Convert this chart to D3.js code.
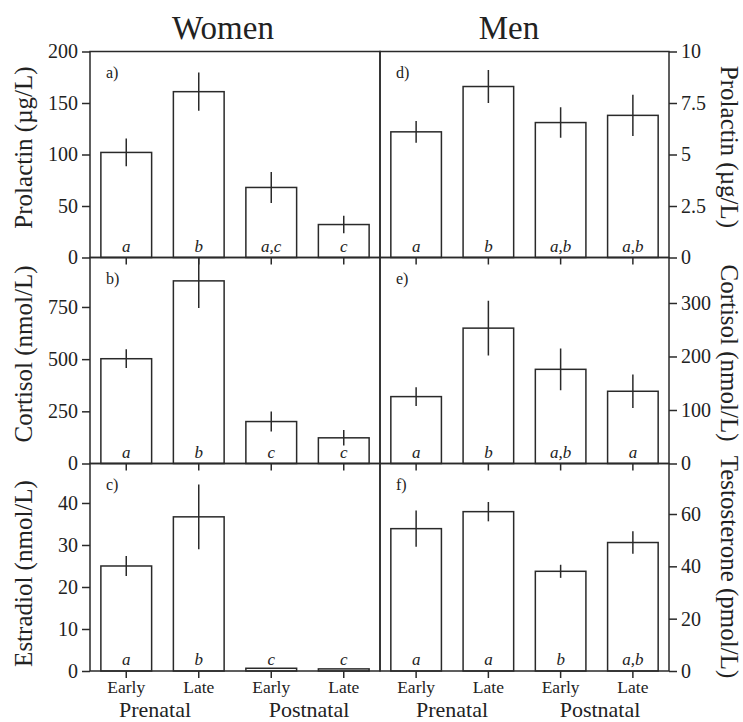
<!DOCTYPE html>
<html><head><meta charset="utf-8">
<script src="https://cdn.jsdelivr.net/npm/d3@7"></script>
<style>
body{margin:0;background:#fff;}
svg text{font-family:"Liberation Serif","Times New Roman",serif;fill:#222;}
</style></head>
<body><svg id="c" width="743" height="722"></svg>
<script>
// ---- data ----
const stages = ["Early", "Late", "Early", "Late"];
const phases = ["Prenatal", "Postnatal"];
const womenProlactin = [102, 161, 68, 32];
const womenProlactinErr = [13.5, 18.5, 15, 8.5];
const womenProlactinLetters = ["a", "b", "a,c", "c"];
const womenCortisol = [502, 875, 201, 123];
const womenCortisolErr = [45, 130, 48, 37];
const womenCortisolLetters = ["a", "b", "c", "c"];
const womenEstradiol = [25, 36.7, 0.65, 0.5];
const womenEstradiolErr = [2.4, 7.7, 0, 0];
const womenEstradiolLetters = ["a", "b", "c", "c"];
const menProlactin = [6.1, 8.3, 6.55, 6.9];
const menProlactinErr = [0.53, 0.8, 0.74, 1.0];
const menProlactinLetters = ["a", "b", "a,b", "a,b"];
const menCortisol = [125, 253, 176, 135];
const menCortisolErr = [17.5, 51, 39, 31.5];
const menCortisolLetters = ["a", "b", "a,b", "a"];
const menTestosterone = [54.4, 60.9, 38.1, 49.1];
const menTestosteroneErr = [6.9, 3.7, 2.5, 4.3];
const menTestosteroneLetters = ["a", "a", "b", "a,b"];
const ticksA = [0, 50, 100, 150, 200];
const ticksB = [0, 250, 500, 750];
const ticksC = [0, 10, 20, 30, 40];
const ticksD = [0, 2.5, 5, 7.5, 10];
const ticksE = [0, 100, 200, 300];
const ticksF = [0, 20, 40, 60];

const svg = d3.select("#c");
const ink = "#2a2a2a";
const rows = [51.5, 257.5, 463.5, 671];
const cols = [[90, 380], [380, 669]];

const panels = [
  {id:"a", col:0, row:0, vals:womenProlactin, err:womenProlactinErr, let:womenProlactinLetters, max:200, ticks:ticksA, label:"Prolactin (µg/L)", lab:[23,147.5]},
  {id:"b", col:0, row:1, vals:womenCortisol, err:womenCortisolErr, let:womenCortisolLetters, max:987, ticks:ticksB, label:"Cortisol (nmol/L)", lab:[23,354]},
  {id:"c", col:0, row:2, vals:womenEstradiol, err:womenEstradiolErr, let:womenEstradiolLetters, max:49.4, ticks:ticksC, label:"Estradiol (nmol/L)", lab:[23,573.5]},
  {id:"d", col:1, row:0, vals:menProlactin, err:menProlactinErr, let:menProlactinLetters, max:10, ticks:ticksD, label:"Prolactin (µg/L)", lab:[730,147]},
  {id:"e", col:1, row:1, vals:menCortisol, err:menCortisolErr, let:menCortisolLetters, max:385, ticks:ticksE, label:"Cortisol (nmol/L)", lab:[730,353]},
  {id:"f", col:1, row:2, vals:menTestosterone, err:menTestosteroneErr, let:menTestosteroneLetters, max:79.3, ticks:ticksF, label:"Testosterone (pmol/L)", lab:[730,567]}
];

panels.forEach(p => {
  const [x0, x1] = cols[p.col];
  const y0 = rows[p.row], y1 = rows[p.row + 1];
  const x = d3.scaleBand().domain(d3.range(4)).range([x0, x1]).paddingInner(0.3).paddingOuter(0.15);
  const y = d3.scaleLinear().domain([0, p.max]).range([y1, y0]);
  const g = svg.append("g");
  const clipId = "clip" + p.id;
  svg.append("clipPath").attr("id", clipId).append("rect")
    .attr("x", x0).attr("y", y0).attr("width", x1 - x0).attr("height", y1 - y0);

  // bars
  g.selectAll("rect.bar").data(p.vals).join("rect")
    .attr("x", (d, i) => x(i)).attr("width", x.bandwidth())
    .attr("y", d => y(d)).attr("height", d => y(0) - y(d))
    .attr("fill", "#fff").attr("stroke", ink).attr("stroke-width", 1.5);
  // error bars
  g.append("g").attr("clip-path", `url(#${clipId})`).selectAll("line").data(p.vals).join("line")
    .attr("x1", (d, i) => x(i) + x.bandwidth() / 2).attr("x2", (d, i) => x(i) + x.bandwidth() / 2)
    .attr("y1", (d, i) => y(d + p.err[i])).attr("y2", (d, i) => y(d - p.err[i]))
    .attr("stroke", ink).attr("stroke-width", 1.5);
  // letters
  g.selectAll("text.let").data(p.let).join("text")
    .attr("x", (d, i) => x(i) + x.bandwidth() / 2).attr("y", y(0) - 6)
    .attr("text-anchor", "middle").attr("font-style", "italic").attr("font-size", 17)
    .text(d => d);
  // frame
  g.append("rect").attr("x", x0).attr("y", y0).attr("width", x1 - x0).attr("height", y1 - y0)
    .attr("fill", "none").attr("stroke", ink).attr("stroke-width", 1.5);
  // bottom axis ticks
  const xa = g.append("g").attr("transform", `translate(0,${y1})`)
    .call(d3.axisBottom(x).tickSize(7).tickPadding(3).tickFormat(p.row === 2 ? (i => stages[i]) : ""));
  xa.select(".domain").remove();
  xa.selectAll("line").attr("stroke", ink).attr("stroke-width", 1.5);
  xa.selectAll("text").attr("font-size", 17.5).attr("dy", "0.71em").attr("fill", "#222")
    .attr("font-family", "Liberation Serif");
  // y axis
  const fmt = v => String(v);
  const ya = g.append("g")
    .attr("transform", `translate(${p.col === 0 ? x0 : x1},0)`)
    .call((p.col === 0 ? d3.axisLeft(y) : d3.axisRight(y)).tickValues(p.ticks).tickSize(8).tickPadding(4).tickFormat(fmt));
  ya.select(".domain").remove();
  ya.selectAll("line").attr("stroke", ink).attr("stroke-width", 1.5);
  ya.selectAll("text").attr("font-size", 20).attr("fill", "#222").attr("font-family", "Liberation Serif");
  // panel id
  g.append("text").attr("x", x0 + 16).attr("y", y0 + 26).attr("font-size", 16).text(p.id + ")");
  // axis label
  g.append("text").attr("transform", `translate(${p.lab[0]},${p.lab[1]}) rotate(${p.col === 0 ? -90 : 90})`)
    .attr("text-anchor", "middle").attr("dy", "0.35em").attr("font-size", 25).text(p.label);
});

// titles
svg.append("text").attr("x", 223).attr("y", 39).attr("text-anchor", "middle").attr("font-size", 33).text("Women");
svg.append("text").attr("x", 509).attr("y", 39).attr("text-anchor", "middle").attr("font-size", 33).text("Men");

// phase labels
const phasePos = [[155, 309], [452, 600]];
phasePos.forEach(pp => {
  svg.selectAll(null).data(phases).join("text")
    .attr("x", (d, i) => pp[i]).attr("y", 717.2).attr("text-anchor", "middle").attr("font-size", 22).text(d => d);
});
</script></body></html>
